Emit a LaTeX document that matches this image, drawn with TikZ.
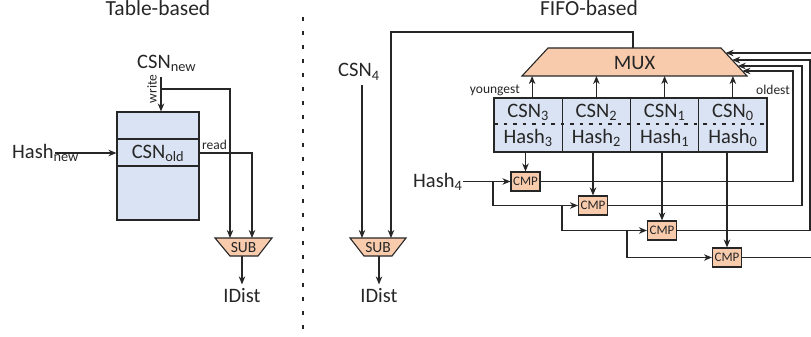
\documentclass[tikz,border=0pt]{standalone}
\usepackage{fontspec}
\setmainfont{Carlito}
\usetikzlibrary{arrows.meta}
\definecolor{cellblue}{HTML}{DAE3F3}
\definecolor{peach}{HTML}{F8CBAD}
\definecolor{ink}{HTML}{262626}
\begin{document}
\begin{tikzpicture}[x=1pt,y=-1pt,
  wire/.style={draw=ink, line width=1.1pt},
  arr/.style={wire, -{Stealth[length=8pt,width=6.5pt,inset=2.5pt]}},
  ttl/.style={font=\fontsize{21.5}{24}\selectfont, inner sep=0pt, text=ink},
  big/.style={font=\fontsize{20.5}{24}\selectfont, inner sep=0pt, text=ink},
  small/.style={font=\fontsize{13.5}{16}\selectfont, inner sep=0pt, text=ink},
  subtxt/.style={font=\fontsize{15.5}{18}\selectfont, inner sep=0pt, text=ink},
  cmp/.style={wire, fill=peach, minimum width=29pt, minimum height=19pt, inner sep=0pt,
     font=\fontsize{13}{15}\selectfont, text=ink},
  cell/.style={wire, fill=cellblue, minimum width=68.25pt, minimum height=54pt, inner sep=0pt},
  shape fill/.style={draw=ink, line width=1.1pt, fill=peach}
]
\useasboundingbox (0,0) rectangle (811,337);

% ---------------- Table-based ----------------
\node[ttl, anchor=base] (t1) at (158,16) {Table-based};
\node[wire, fill=cellblue, minimum width=82pt, minimum height=108pt, inner sep=0pt] (tbl) at (158,166) {};
\draw[wire] (tbl.west |- 0,139) -- (tbl.east |- 0,139);
\draw[wire] (tbl.west |- 0,166) -- (tbl.east |- 0,166);
\node[big, anchor=base] (old) at (158,158) {CSN\textsubscript{old}};

\node[big, anchor=base west] (csnnew) at (137,68) {CSN\textsubscript{new}};
\coordinate (wtop) at (161,77);
\coordinate (wbr) at (161,89);
\draw[arr] (wtop) -- (tbl.north -| wtop);
\node[small, rotate=90] (wlab) at (152,89) {write};

\node[big, anchor=base west] (hashnew) at (12,158) {Hash\textsubscript{new}};
\coordinate (hn) at (55,153);
\draw[arr] (hn) -- (tbl.west |- hn);

% SUB 1
\path[shape fill] (215,238) -- (272,238) -- (258,256) -- (230,256) -- cycle;
\node[subtxt] (sub1) at (243.5,247.5) {SUB};
\coordinate (s1a) at (230,238);
\coordinate (s1b) at (252,238);
\coordinate (s1o) at (242,256);
\draw[arr] (wbr) -| (s1a);
\coordinate (rd) at (tbl.east |- hn);
\draw[arr] (rd) -| (s1b);
\node[small, anchor=base west] (rlab) at (202,149) {read};
\node[big, anchor=base, outer sep=3.5pt] (id1) at (242,302) {IDist};
\draw[arr] (s1o) -- (id1.north);

% divider
\draw[ink, line width=1.1pt, dash pattern=on 4pt off 10pt] (303,17) -- (303,330);

% ---------------- FIFO-based ----------------
\node[ttl, anchor=base] (t2) at (589,16) {FIFO-based};

% MUX
\path[shape fill] (548,48) -- (721,48) -- (747,76) -- (522,76) -- cycle;
\node[big] (mux) at (634.5,62.5) {MUX};
\coordinate (muxt) at (633,48);
\coordinate (muxb) at (634,76);

% cells
\node[cell] (c3) at (528.1,125) {};
\node[cell] (c2) at (596.4,125) {};
\node[cell] (c1) at (664.6,125) {};
\node[cell] (c0) at (732.9,125) {};
\draw[ink, line width=1.1pt, dash pattern=on 3.5pt off 6pt] (494,124) -- (767,124);
\foreach \n/\i in {c3/3,c2/2,c1/1,c0/0}{
  \node[big, anchor=base] at ([yshift=8pt]\n.center) {CSN\textsubscript{\i}};
  \node[big, anchor=base] at ([yshift=-18pt]\n.center) {Hash\textsubscript{\i}};
}
\draw[arr] ([xshift=4pt]c3.north) -- ([xshift=4pt]c3.north |- muxb);
\draw[arr] (c2.north) -- (c2.north |- muxb);
\draw[arr] (c1.north) -- (c1.north |- muxb);
\draw[arr] (c0.north) -- (c0.north |- muxb);
\node[small, anchor=base east] (young) at (520,93) {youngest};
\node[small, anchor=base west] (oldlab) at (756,94) {oldest};

% CMPs
\node[cmp] (k0) at (525.5,181.5) {CMP};
\node[cmp] (k1) at (593,205.5) {CMP};
\node[cmp] (k2) at (662,230.5) {CMP};
\node[cmp] (k3) at (727,257.5) {CMP};
\draw[arr] (c3.south -| k0) -- (k0);
\draw[arr] (c2.south -| k1) -- (k1);
\draw[arr] (c1.south -| k2) -- (k2);
\draw[arr] (c0.south -| k3) -- (k3);

\node[big, anchor=base west] (hash4) at (413,187) {Hash\textsubscript{4}};
\coordinate (h4) at (463,181.5);
\draw[arr] (h4) -- (k0.west);
\coordinate (b1) at (493,181.5);
\coordinate (b2) at (562,205.5);
\coordinate (b3) at (627,230.5);
\draw[arr] (b1) |- (k1.west);
\draw[arr] (b2) |- (k2.west);
\draw[arr] (b3) |- (k3.west);

% feedback into MUX
\coordinate (m0) at (742.4,71);
\coordinate (m1) at (737.7,66);
\coordinate (m2) at (732.1,60);
\coordinate (m3) at (725.6,53);
\draw[arr] (k0.east) -| (793,71) -- (m0);
\draw[arr] (k1.east) -| (802,66) -- (m1);
\draw[arr] (k2.east) -| (810,60) -- (m2);
\draw[arr] (k3.east) -| (818,53) -- (m3);

% SUB 2
\path[shape fill] (350,238) -- (406,238) -- (392,256) -- (364,256) -- cycle;
\node[subtxt] (sub2) at (378,247.5) {SUB};
\coordinate (s2a) at (362,238);
\coordinate (s2b) at (391,238);
\coordinate (s2o) at (379,256);
\node[big, anchor=base west] (csn4) at (338,77) {CSN\textsubscript{4}};
\coordinate (c4) at (362,85);
\draw[arr] (c4) -- (s2a);
\draw[arr] (muxt) -- (633,32) -| (s2b);
\node[big, anchor=base, outer sep=3.5pt] (id2) at (379,302) {IDist};
\draw[arr] (s2o) -- (id2.north);
\end{tikzpicture}
\end{document}
